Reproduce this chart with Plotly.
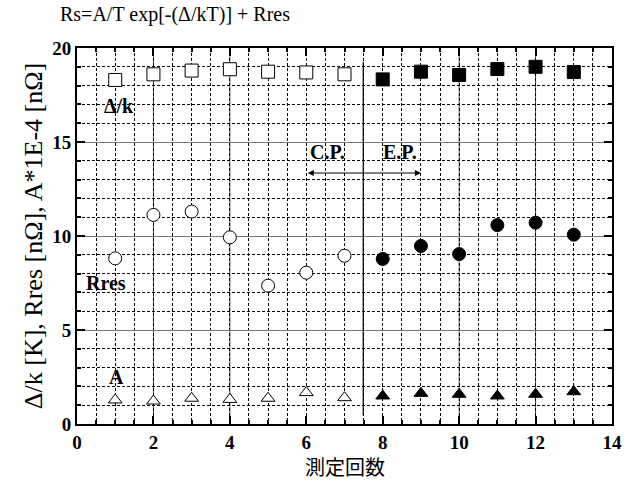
import plotly.graph_objects as go

cp_x = [1, 2, 3, 4, 5, 6, 7]
ep_x = [8, 9, 10, 11, 12, 13]
delta_cp = [18.3, 18.6, 18.8, 18.87, 18.74, 18.7, 18.6]
delta_ep = [18.33, 18.74, 18.56, 18.88, 19.0, 18.72]
rres_cp = [8.81, 11.12, 11.3, 9.93, 7.36, 8.05, 8.95]
rres_ep = [8.78, 9.47, 9.04, 10.58, 10.71, 10.07]
a_cp = [1.28, 1.22, 1.37, 1.31, 1.37, 1.67, 1.4]
a_ep = [1.49, 1.63, 1.58, 1.49, 1.58, 1.72]

x_ticks = [0, 2, 4, 6, 8, 10, 12, 14]
y_ticks = [0, 5, 10, 15, 20]
solid_x_grid = [2, 4, 10, 12]
separator_x = 7.49

serif = "Liberation Serif"
fig = go.Figure()

def add(x, y, symbol, filled):
    fig.add_trace(go.Scatter(
        x=x, y=y, mode="markers", showlegend=False,
        marker=dict(symbol=symbol, size=13 if "triangle" not in symbol else 12,
                    color="black" if filled else "white",
                    line=dict(color="black", width=1)),
    ))

add(cp_x, delta_cp, "square", False)
add(ep_x, delta_ep, "square", True)
add(cp_x, rres_cp, "circle", False)
add(ep_x, rres_ep, "circle", True)
add(cp_x, a_cp, "triangle-up", False)
add(ep_x, a_ep, "triangle-up", True)

for xv in solid_x_grid:
    fig.add_shape(type="line", xref="x", yref="paper", x0=xv, x1=xv, y0=0, y1=1,
                  line=dict(color="#555555", width=1), layer="below")
fig.add_shape(type="line", xref="x", yref="y", x0=separator_x, x1=separator_x,
              y0=0.48, y1=19.27, line=dict(color="black", width=1.2))

lbl = dict(family=serif, size=20, color="black")
fig.add_annotation(x=1.1, y=16.9, text="<b>Δ/k</b>", showarrow=False, font=lbl)
fig.add_annotation(x=0.75, y=7.5, text="<b>Rres</b>", showarrow=False, font=lbl)
fig.add_annotation(x=1.04, y=2.5, text="<b>A</b>", showarrow=False, font=lbl)
fig.add_annotation(x=6.56, y=14.45, text="<b>C.P.</b>", showarrow=False, font=lbl)
fig.add_annotation(x=8.45, y=14.45, text="<b>E.P.</b>", showarrow=False, font=lbl)
fig.add_annotation(x=9.0, y=13.35, ax=6.0, ay=13.35, xref="x", yref="y", axref="x", ayref="y",
                   text="", showarrow=True, arrowhead=2, arrowside="end+start",
                   arrowwidth=1, arrowcolor="black", arrowsize=1.2)

fig.add_annotation(xref="paper", yref="paper", x=-0.035, y=1.088, xanchor="left", yanchor="middle",
                   text="Rs=A/T exp[-(Δ/kT)] + Rres", showarrow=False,
                   font=dict(family=serif, size=20, color="black"))
fig.add_annotation(xref="paper", yref="paper", x=0.5, y=-0.113, xanchor="center", yanchor="middle",
                   text="測定回数", showarrow=False,
                   font=dict(family="Noto Sans CJK JP", size=20, color="black"))

grid_dash = "3px,2px"
fig.update_xaxes(
    range=[0, 14], tickvals=x_ticks, ticktext=[f"<b>{v}</b>" for v in x_ticks],
    ticks="inside", ticklen=8, tickwidth=1.5, tickcolor="black",
    showline=True, linewidth=2, linecolor="black", mirror="allticks",
    showgrid=True, gridcolor="black", gridwidth=1, griddash=grid_dash,
    minor=dict(dtick=0.5, ticks="inside", ticklen=4, tickcolor="black",
               showgrid=True, gridcolor="black", gridwidth=1, griddash=grid_dash),
    tickfont=dict(family=serif, size=19, color="black"),
    zeroline=False,
)
fig.update_yaxes(
    range=[0, 20], tickvals=y_ticks, ticktext=[f"<b>{v}</b>" for v in y_ticks],
    ticks="inside", ticklen=8, tickwidth=1.5, tickcolor="black",
    showline=True, linewidth=2, linecolor="black", mirror="allticks",
    showgrid=True, gridcolor="#777777", gridwidth=1,
    minor=dict(dtick=1, ticks="inside", ticklen=4, tickcolor="black",
               showgrid=True, gridcolor="black", gridwidth=1, griddash=grid_dash),
    tickfont=dict(family=serif, size=19, color="black"),
    title=dict(text="Δ/k [K], Rres [nΩ], A*1E-4 [nΩ]", font=dict(family=serif, size=26, color="black"), standoff=2),
    zeroline=False,
)
fig.update_layout(
    width=634, height=485,
    margin=dict(l=77, r=17, t=48, b=61),
    plot_bgcolor="white", paper_bgcolor="white",
)
fig.write_html("out.html", config={"displayModeBar": False},
               post_script="document.body.style.margin='0';document.body.style.overflow='hidden';")
